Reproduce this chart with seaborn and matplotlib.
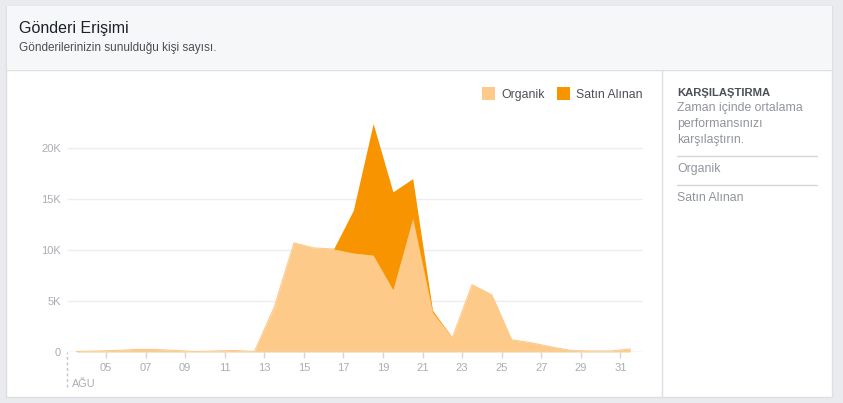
import matplotlib
matplotlib.use("Agg")
import matplotlib.pyplot as plt
from matplotlib.patches import Patch, Rectangle
from matplotlib.lines import Line2D
import seaborn as sns
import pandas as pd

sns.set_theme(style="white")
plt.rcParams["font.family"] = ["Liberation Sans", "DejaVu Sans"]

# --- DATA (reach per day, August) ---
days = list(range(3, 32))
organic = [50, 100, 150, 250, 250, 150, 50, 100, 150, 50,
           4400, 10700, 10200, 10100, 9700, 9500, 6100, 13100, 3900, 1400,
           6600, 5600, 1200, 900, 500, 150, 100, 100, 300]
paid = [0, 0, 0, 0, 0, 0, 0, 0, 0, 0,
        0, 0, 0, 0, 4200, 12900, 9600, 3900, 200, 0,
        0, 0, 0, 0, 0, 0, 0, 0, 0]
x_ticks = [5, 7, 9, 11, 13, 15, 17, 19, 21, 23, 25, 27, 29, 31]
x_labels = ["05", "07", "09", "11", "13", "15", "17", "19", "21", "23", "25", "27", "29", "31"]
y_ticks = [0, 5000, 10000, 15000, 20000]
y_labels = ["0", "5K", "10K", "15K", "20K"]
series_names = ["Organik", "Satın Alınan"]

df = pd.DataFrame({"day": days, "organic": organic, "paid": paid})
df["x"] = df["day"] + 0.5          # points sit in the middle of each day
df["total"] = df["organic"] + df["paid"]

c_org = "#fdca8a"
c_paid = "#f79400"
c_tick = "#a9adb3"
c_grid = "#ebedf0"
c_text = "#4b4f56"
c_grey = "#90949c"

W, H = 843, 403
fig = plt.figure(figsize=(W / 100, H / 100), dpi=100, facecolor="#e9ebee")

def fx(px):
    return px / W

def fy(py):
    return 1 - py / H

# card + header
fig.patches.append(Rectangle((fx(6), fy(397)), fx(826), 391 / H, transform=fig.transFigure,
                             facecolor="white", edgecolor="#dddfe2", lw=1, zorder=-2))
fig.patches.append(Rectangle((fx(6.5), fy(69.5)), fx(825), 63 / H, transform=fig.transFigure,
                             facecolor="#f6f7f9", edgecolor="none", zorder=-1))
fig.lines.append(Line2D([fx(6), fx(832)], [fy(69.5), fy(69.5)], transform=fig.transFigure,
                        color="#dddfe2", lw=1, zorder=-1))
fig.lines.append(Line2D([fx(661.5), fx(661.5)], [fy(69.5), fy(396.5)], transform=fig.transFigure,
                        color="#dddfe2", lw=1, zorder=-1))

fig.text(fx(19), fy(28), "Gönderi Erişimi", fontsize=11.5, color="#1d2129", va="center")
fig.text(fx(19), fy(48), "Gönderilerinizin sunulduğu kişi sayısı.", fontsize=8.5,
         color=c_text, va="center")

# right panel
fig.text(fx(677), fy(93), "KARŞILAŞTIRMA", fontsize=8.1, fontweight="bold", color=c_text, va="center")
for ty, line in zip([108, 124, 140], ["Zaman içinde ortalama", "performansınızı", "karşılaştırın."]):
    fig.text(fx(677), fy(ty), line, fontsize=8.8, color=c_grey, va="center")
for ly in [156, 185]:
    fig.lines.append(Line2D([fx(677), fx(817)], [fy(ly), fy(ly)], transform=fig.transFigure,
                            color="#d3d6db", lw=1))
fig.text(fx(677), fy(169), series_names[0], fontsize=8.8, color=c_grey, va="center")
fig.text(fx(677), fy(198), series_names[1], fontsize=8.8, color=c_grey, va="center")

# --- chart ---
ax = fig.add_axes([fx(66.5), fy(352), fx(660 - 66.5), (352 - 82) / H])
ax.set_zorder(2)
ax.set_facecolor("none")
ax.set_xlim(3, 33)
ax.set_ylim(0, 26470)

for v in y_ticks[1:]:
    ax.hlines(v, 3, 32.1, color=c_grid, lw=1, zorder=1)
ax.hlines(0, 3, 32.1, color="#dddfe2", lw=1, zorder=4)

ax.fill_between(df["x"], 0, df["organic"], color=c_org, lw=0, zorder=2)
ax.fill_between(df["x"], df["organic"], df["total"], color=c_paid, lw=0, zorder=3)
sns.lineplot(data=df, x="x", y="organic", color=c_org, lw=0.8, ax=ax, zorder=2)

ax.vlines(3, -3400, 0, color="#bec3c9", lw=1, linestyles=(0, (2, 2)), clip_on=False)
ax.text(3.27, -3100, "AĞU", fontsize=7.8, color=c_tick, va="center", ha="left")

for s in ax.spines.values():
    s.set_visible(False)
ax.set_xticks(x_ticks)
ax.set_xticklabels(x_labels)
ax.set_yticks(y_ticks)
ax.set_yticklabels(y_labels)
ax.tick_params(axis="x", length=4, width=1, color="#d3d6db", labelcolor=c_tick, labelsize=8,
               pad=4, direction="out", bottom=True)
ax.tick_params(axis="y", length=0, labelcolor=c_tick, labelsize=8, pad=4)
ax.set_xlabel("")
ax.set_ylabel("")

handles = [Patch(facecolor=c_org, edgecolor="none", label=series_names[0]),
           Patch(facecolor=c_paid, edgecolor="none", label=series_names[1])]
leg = fig.legend(handles=handles, loc="upper right", bbox_to_anchor=(fx(643), fy(87)), ncol=2,
                 frameon=False, fontsize=8.8, handlelength=1.05, handleheight=1.3,
                 handletextpad=0.55, columnspacing=1.0, borderpad=0, borderaxespad=0)
for t in leg.get_texts():
    t.set_color(c_text)

fig.savefig("out.png", dpi=100, facecolor=fig.get_facecolor())
